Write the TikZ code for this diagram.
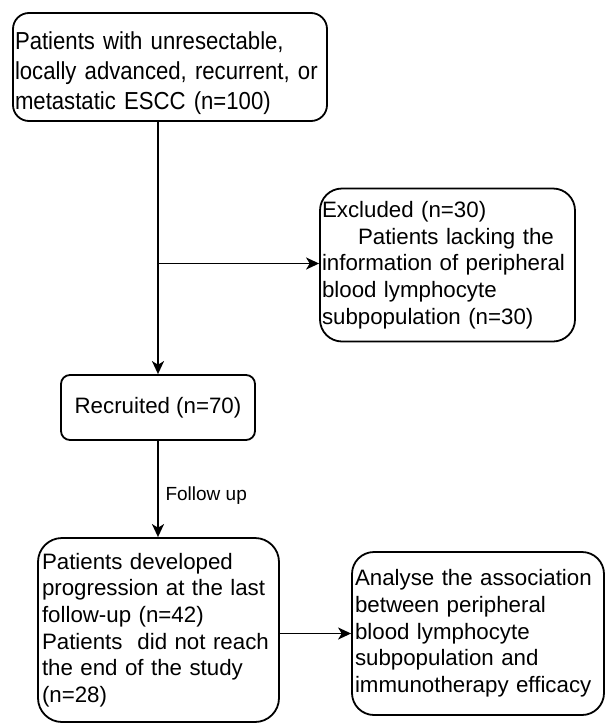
\documentclass[tikz,border=0pt]{standalone}
\usepackage{fontspec}
\setmainfont{Liberation Sans}
\newfontfamily\headfont{Liberation Sans}[FakeStretch=0.9]
\usetikzlibrary{arrows.meta, positioning}

\tikzset{
  flowbox/.style={draw, line width=0.9pt, inner xsep=1pt, inner ysep=0pt, align=left,
    font=\fontsize{11.15}{13.35}\selectfont},
  flowarrow/.style={-{Stealth[length=6.5pt, width=6pt, inset=1.8pt]}, line width=0.9pt},
}

\begin{document}
\begin{tikzpicture}[x=0.5pt, y=-0.5pt]
  \useasboundingbox (0,0) rectangle (605,723);
  % boxes
  \node[flowbox, rounded corners=8pt, minimum width=157pt, minimum height=54pt, text width=155pt,
    font=\headfont\fontsize{12.3}{15}\selectfont] (patients) at (170,67)
    {\rule{0pt}{15pt}Patients with unresectable,\\ locally advanced, recurrent, or\\ metastatic ESCC (n=100)};
  \node[flowbox, rounded corners=11pt, minimum width=127.5pt, minimum height=76.5pt, text width=125.5pt] (excluded) at (447.5,265)
    {Excluded (n=30)\\ \hspace*{18pt}Patients lacking the\\ information of peripheral\\ blood lymphocyte\\ subpopulation (n=30)};
  \node[flowbox, rounded corners=4.5pt, minimum width=97pt, minimum height=32.5pt, align=center] (recruited) at (158,407.5)
    {Recruited (n=70)};
  \node[flowbox, rounded corners=12pt, minimum width=120.5pt, minimum height=92pt, inner xsep=2pt, text width=116.5pt] (progress) at (158.5,630)
    {Patients developed\\ progression at the last\\ follow-up (n=42)\\ Patients\ \ did not reach\\ the end of the study\\ (n=28)};
  \node[flowbox, rounded corners=11pt, minimum width=126pt, minimum height=81.5pt, inner xsep=1.5pt, text width=123pt] (analyse) at (478,633.5)
    {Analyse the association\\ between peripheral\\ blood lymphocyte\\ subpopulation and\\ immunotherapy efficacy};
  % connectors
  \coordinate (split) at (158,263.5);
  \draw[flowarrow] (patients.south -| recruited.north) -- (recruited.north);
  \draw[flowarrow] (split) -- (split -| excluded.west);
  \draw[flowarrow] (recruited.south) -- node[pos=0.57, right, font=\fontsize{9.5}{11}\selectfont] {Follow up} (recruited.south |- progress.north);
  \draw[flowarrow] (progress.east |- analyse.west) -- (analyse.west);
\end{tikzpicture}
\end{document}
